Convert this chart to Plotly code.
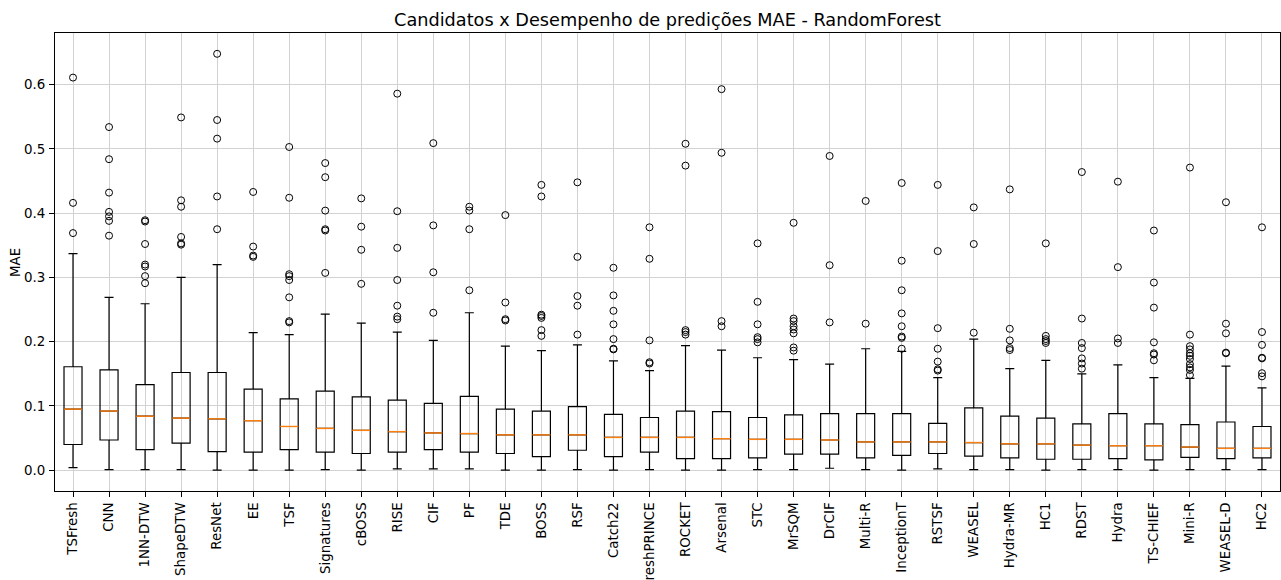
import plotly.graph_objects as go

# Candidate classifiers (sorted by median MAE)
names = ["TSFresh", "CNN", "1NN-DTW", "ShapeDTW", "ResNet", "EE", "TSF", "Signatures",
         "cBOSS", "RISE", "CIF", "PF", "TDE", "BOSS", "RSF", "Catch22", "FreshPRINCE",
         "ROCKET", "Arsenal", "STC", "MrSQM", "DrCIF", "Multi-R", "InceptionT", "RSTSF",
         "WEASEL", "Hydra-MR", "HC1", "RDST", "Hydra", "TS-CHIEF", "Mini-R", "WEASEL-D", "HC2"]

# Box statistics per candidate
q1 = [0.040, 0.047, 0.032, 0.042, 0.029, 0.028, 0.032, 0.028, 0.026, 0.028, 0.032, 0.028,
      0.026, 0.021, 0.031, 0.021, 0.028, 0.018, 0.018, 0.019, 0.025, 0.025, 0.019, 0.023,
      0.026, 0.022, 0.019, 0.017, 0.017, 0.018, 0.016, 0.020, 0.018, 0.019]
median = [0.095, 0.092, 0.084, 0.081, 0.080, 0.077, 0.068, 0.065, 0.062, 0.060, 0.058, 0.057,
          0.055, 0.055, 0.055, 0.051, 0.051, 0.051, 0.049, 0.048, 0.048, 0.047, 0.044, 0.044,
          0.044, 0.043, 0.041, 0.041, 0.039, 0.038, 0.038, 0.036, 0.034, 0.034]
q3 = [0.161, 0.156, 0.133, 0.152, 0.152, 0.126, 0.111, 0.123, 0.114, 0.109, 0.104, 0.115,
      0.095, 0.092, 0.099, 0.087, 0.082, 0.092, 0.091, 0.082, 0.086, 0.088, 0.088, 0.088,
      0.073, 0.097, 0.084, 0.081, 0.072, 0.088, 0.072, 0.071, 0.075, 0.068]
whisker_high = [0.337, 0.269, 0.259, 0.300, 0.320, 0.214, 0.211, 0.243, 0.229, 0.215, 0.202, 0.245,
                0.193, 0.186, 0.195, 0.170, 0.155, 0.194, 0.187, 0.175, 0.172, 0.165, 0.189, 0.185,
                0.144, 0.204, 0.158, 0.171, 0.150, 0.164, 0.144, 0.143, 0.162, 0.128]
whisker_low = [0.004, 0.001, 0.001, 0.001, 0.000, 0.000, 0.000, 0.001, 0.000, 0.002, 0.002, 0.002,
               0.000, 0.000, 0.001, 0.000, 0.001, 0.000, 0.000, 0.001, 0.001, 0.003, 0.001, 0.000,
               0.002, 0.001, 0.001, 0.000, 0.001, 0.001, 0.000, 0.001, 0.001, 0.001]

# Points beyond the whiskers
outliers = [
    [0.611, 0.416, 0.369],
    [0.534, 0.484, 0.432, 0.402, 0.395, 0.388, 0.365],
    [0.389, 0.387, 0.352, 0.320, 0.317, 0.302, 0.291],
    [0.549, 0.420, 0.410, 0.363, 0.353, 0.351],
    [0.648, 0.545, 0.516, 0.426, 0.375],
    [0.433, 0.348, 0.334, 0.332],
    [0.503, 0.424, 0.305, 0.302, 0.296, 0.269, 0.232, 0.230],
    [0.478, 0.456, 0.404, 0.375, 0.373, 0.307],
    [0.423, 0.379, 0.343, 0.290],
    [0.586, 0.403, 0.346, 0.296, 0.256, 0.239, 0.235],
    [0.509, 0.381, 0.308, 0.245],
    [0.410, 0.404, 0.375, 0.280],
    [0.397, 0.261, 0.235, 0.233],
    [0.444, 0.426, 0.242, 0.240, 0.237, 0.218, 0.209],
    [0.448, 0.332, 0.271, 0.256, 0.211],
    [0.315, 0.272, 0.248, 0.227, 0.204, 0.189, 0.188],
    [0.378, 0.329, 0.202, 0.168, 0.166],
    [0.508, 0.474, 0.218, 0.215, 0.211],
    [0.593, 0.494, 0.232, 0.224],
    [0.353, 0.262, 0.227, 0.207, 0.204, 0.199],
    [0.385, 0.236, 0.232, 0.224, 0.219, 0.213, 0.191, 0.186],
    [0.489, 0.319, 0.230],
    [0.419, 0.228],
    [0.447, 0.326, 0.280, 0.244, 0.224, 0.208, 0.206, 0.189],
    [0.444, 0.341, 0.221, 0.189, 0.169, 0.157, 0.155],
    [0.409, 0.352, 0.214],
    [0.437, 0.220, 0.202, 0.190, 0.187],
    [0.353, 0.209, 0.204, 0.201, 0.198],
    [0.464, 0.236, 0.198, 0.190, 0.174, 0.166, 0.158],
    [0.449, 0.316, 0.205, 0.198],
    [0.373, 0.292, 0.253, 0.199, 0.182, 0.180, 0.171],
    [0.471, 0.211, 0.193, 0.188, 0.182, 0.178, 0.173, 0.165, 0.160, 0.156, 0.148],
    [0.417, 0.228, 0.213, 0.183, 0.182],
    [0.378, 0.215, 0.195, 0.175, 0.174, 0.151, 0.146],
]

y_ticks = [0.0, 0.1, 0.2, 0.3, 0.4, 0.5, 0.6]

FONT = "DejaVu Sans"
TICK_SIZE = 13.4
TITLE_SIZE = 17.7
BOX_WIDTH = 0.5
MEDIAN_COLOR = "#ff7f0e"
GRID_COLOR = "#d2d2d2"

positions = list(range(1, len(names) + 1))

fig = go.Figure()

# Boxes and whiskers from the precomputed statistics
fig.add_trace(go.Box(
    x=positions,
    q1=q1, median=median, q3=q3,
    lowerfence=whisker_low, upperfence=whisker_high,
    width=BOX_WIDTH,
    whiskerwidth=0.5,
    fillcolor="rgba(0,0,0,0)",
    line=dict(color="black", width=1.2),
    boxpoints=False,
    hoverinfo="skip",
    showlegend=False,
))

# Orange median bars drawn over each box
mx, my = [], []
for p, m in zip(positions, median):
    mx += [p - BOX_WIDTH / 2, p + BOX_WIDTH / 2, None]
    my += [m, m, None]
fig.add_trace(go.Scatter(
    x=mx, y=my, mode="lines",
    line=dict(color=MEDIAN_COLOR, width=1.4),
    hoverinfo="skip", showlegend=False,
))

# Outliers as hollow circles
ox, oy = [], []
for p, pts in zip(positions, outliers):
    ox += [p] * len(pts)
    oy += pts
fig.add_trace(go.Scatter(
    x=ox, y=oy, mode="markers",
    marker=dict(symbol="circle-open", size=7, color="black", line=dict(width=1)),
    hoverinfo="skip", showlegend=False,
))

# Y range with a 5% pad around all plotted values
all_vals = whisker_low + whisker_high + [v for pts in outliers for v in pts]
lo, hi = min(all_vals), max(all_vals)
pad = (hi - lo) * 0.05

axis_common = dict(
    showline=True, linecolor="black", linewidth=1, mirror=True,
    ticks="outside", ticklen=5, tickwidth=1, tickcolor="black",
    showgrid=True, gridcolor=GRID_COLOR, gridwidth=1,
    zeroline=False, automargin=False,
    tickfont=dict(family=FONT, size=TICK_SIZE, color="black"),
)

fig.update_layout(
    width=1281, height=580,
    margin=dict(l=55, r=1, t=33, b=89, pad=0, autoexpand=False),
    paper_bgcolor="white", plot_bgcolor="white",
    font=dict(family=FONT, size=TICK_SIZE, color="black"),
    showlegend=False,
    title=dict(
        text="Candidatos x Desempenho de predições MAE - RandomForest",
        font=dict(family=FONT, size=TITLE_SIZE, color="black"),
        x=(55 + 1280) / 2 / 1281, xanchor="center",
        y=1 - 20.2 / 580, yanchor="middle", yref="container",
    ),
    xaxis=dict(
        range=[0.5, len(names) + 0.5],
        tickmode="array", tickvals=positions, ticktext=names,
        tickangle=-90,
        ticklabelstandoff=0,
        **axis_common,
    ),
    yaxis=dict(
        range=[lo - pad, hi + pad],
        tickmode="array", tickvals=y_ticks, tickformat=".1f",
        ticklabelstandoff=1,
        **axis_common,
    ),
    annotations=[dict(
        text="MAE", textangle=-90,
        xref="paper", yref="paper",
        x=(15 - 55) / 1225, y=0.5,
        xanchor="center", yanchor="middle",
        showarrow=False,
        font=dict(family=FONT, size=TICK_SIZE, color="black"),
    )],
)

fig.write_html("out.html", config={"displayModeBar": False})
